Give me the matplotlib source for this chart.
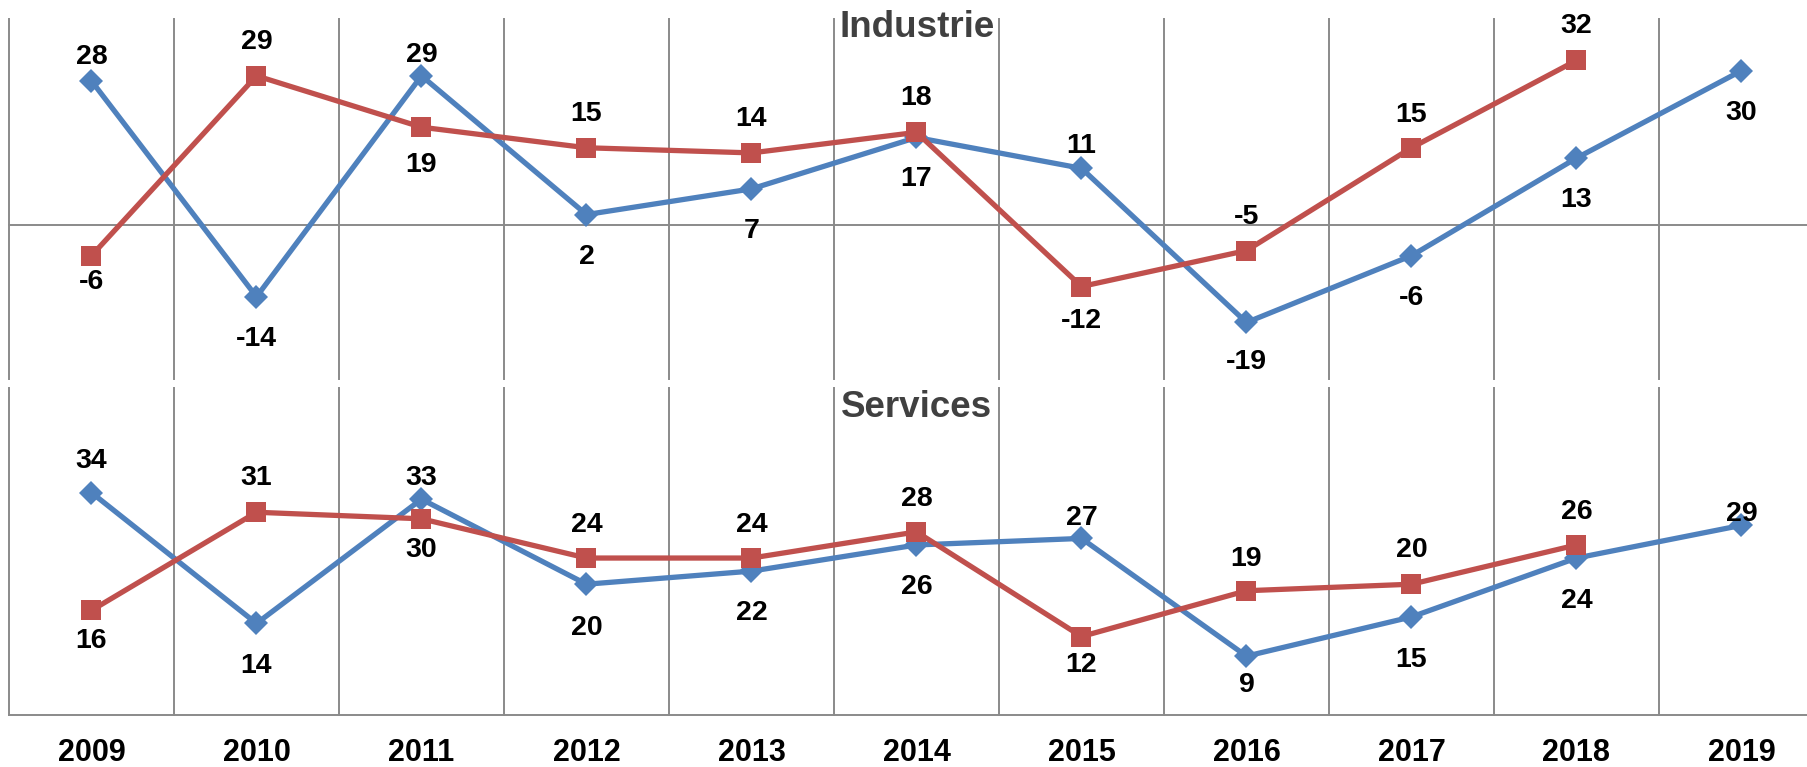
import matplotlib.pyplot as plt
import numpy as np

plt.rcParams['font.family'] = ['Liberation Sans', 'DejaVu Sans']

years = ['2009', '2010', '2011', '2012', '2013', '2014', '2015', '2016', '2017', '2018', '2019']

# Industrie
ind_blue = [28, -14, 29, 2, 7, 17, 11, -19, -6, 13, 30]
ind_red = [-6, 29, 19, 15, 14, 18, -12, -5, 15, 32]

# Services
serv_blue = [34, 14, 33, 20, 22, 26, 27, 9, 15, 24, 29]
serv_red = [16, 31, 30, 24, 24, 28, 12, 19, 20, 26]

# label placement (pixels, + above / - below the point)
ind_blue_off = [27, -39, 24, -39, -39, -39, 25, -37, -39, -39, -39]
ind_red_off = [-23, 37, -35, 37, 37, 37, -31, 37, 36, 37]
serv_blue_off = [35, -40, 24, -41, -39, -39, 23, -26, -40, -40, 14]
serv_red_off = [-28, 37, -28, 36, 36, 36, -25, 35, 37, 36]

BLUE = '#4F81BD'
RED = '#C0504D'
GRID = '#8A8A8A'

W, H = 1808, 767
fig = plt.figure(figsize=(W / 100, H / 100), dpi=100)

left = 9 / W
width = 11 * 165 / W
ax1 = fig.add_axes([left, 1 - 379 / H, width, (379 - 19.3) / H])
ax2 = fig.add_axes([left, 1 - 715 / H, width, (715 - 388) / H])


def draw_panel(ax, blue, red, boff, roff, ylim):
    x = np.arange(len(years))
    ax.set_xlim(-0.5, len(years) - 0.5)
    ax.set_ylim(*ylim)
    for s in ax.spines.values():
        s.set_visible(False)
    ax.set_yticks([])
    for b in np.arange(len(years)) - 0.5:
        ax.axvline(b, color=GRID, lw=1.4, zorder=1, clip_on=False)
    ax.axhline(0, color=GRID, lw=1.4, zorder=1, clip_on=False)

    ax.plot(x[:len(blue)], blue, color=BLUE, lw=3.8, marker='D', ms=12,
            mec=BLUE, mew=0, zorder=3, clip_on=False)
    ax.plot(x[:len(red)], red, color=RED, lw=3.8, marker='s', ms=14.5,
            mec=RED, mew=0, zorder=4, clip_on=False)

    for vals, offs in [(blue, boff), (red, roff)]:
        for i, v in enumerate(vals):
            ax.annotate(str(v), (i, v), xytext=(0, offs[i] * 0.72),
                        textcoords='offset points', ha='center',
                        va='center_baseline', fontsize=20.5,
                        fontweight='bold', color='black', zorder=5,
                        annotation_clip=False)


draw_panel(ax1, ind_blue, ind_red, ind_blue_off, ind_red_off, (-30, 40))
draw_panel(ax2, serv_blue, serv_red, serv_blue_off, serv_red_off, (0, 50))

ax1.set_xticks([])
ax2.set_xticks(np.arange(len(years)))
ax2.set_xticklabels(years, fontsize=22, fontweight='bold')
ax2.tick_params(axis='x', length=0, pad=16.5)

fig.text(917 / W, 1 - 37 / H, 'Industrie', ha='center', va='baseline',
         fontsize=26.5, fontweight='bold', color='#404040')
fig.text(917 / W, 1 - 417 / H, 'Services', ha='center', va='baseline',
         fontsize=26.5, fontweight='bold', color='#404040')

fig.savefig('out.png', dpi=100)
